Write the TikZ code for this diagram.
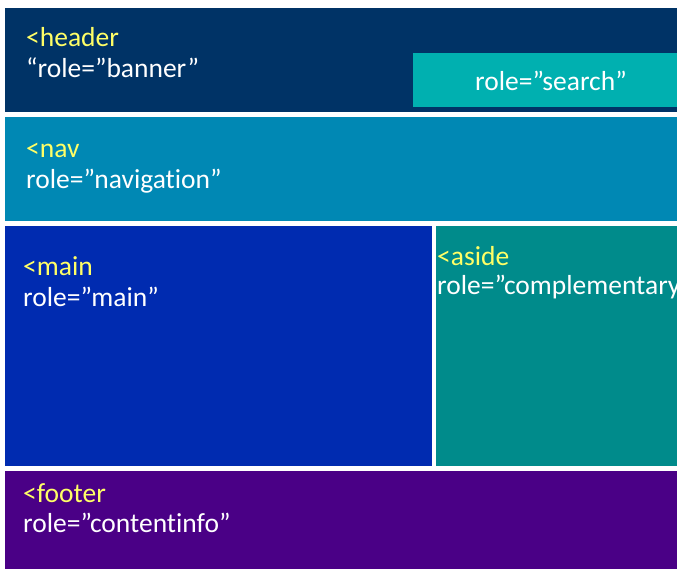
\documentclass[tikz,border=0pt]{standalone}
\usepackage{fontspec}
\setmainfont[Ligatures=NoCommon]{Carlito}
\definecolor{hdr}{RGB}{0,51,102}
\definecolor{srch}{RGB}{0,176,176}
\definecolor{navc}{RGB}{0,136,180}
\definecolor{mainc}{RGB}{0,43,176}
\definecolor{asidec}{RGB}{0,139,139}
\definecolor{footc}{RGB}{74,0,134}
\definecolor{tagc}{RGB}{255,255,102}
\begin{document}
\begin{tikzpicture}[x=1pt,y=-1pt,
  tag/.style={anchor=base west,inner sep=0pt,text=tagc,font=\fontsize{27.5}{32}\selectfont},
  role/.style={anchor=base west,inner sep=0pt,text=white,font=\fontsize{27.5}{32}\selectfont}]
\useasboundingbox (0,0) rectangle (677,570);
\clip (0,0) rectangle (677,570);
% page regions
\fill[hdr]   (5,8)   rectangle (677,112);
\fill[srch]  (413,53) rectangle (677,107);
\fill[navc]  (5,117) rectangle (677,221);
\fill[mainc] (5,226) rectangle (432,466);
\fill[asidec](436,226) rectangle (677,466);
\fill[footc] (5,471) rectangle (677,569);
% labels
\node[tag]  (hdrtag)  at (26,46)  {<header};
\node[role] (hdrrole) at (26,77)  {“role=”banner”};
\node[role,anchor=base] (srchrole) at (551,90) {role=”search”};
\node[tag]  (navtag)  at (26,157) {<nav};
\node[role] (navrole) at (26,188) {role=”navigation”};
\node[tag]  (maintag) at (23,275) {<main};
\node[role] (mainrole) at (23,306) {role=”main”};
\node[tag]  (asidetag) at (437,265) {<aside};
\node[role] (asiderole) at (437,294) {role=”complementary”};
\node[tag]  (foottag) at (23,502) {<footer};
\node[role] (footrole) at (23,532) {role=”contentinfo”};
\end{tikzpicture}
\end{document}
